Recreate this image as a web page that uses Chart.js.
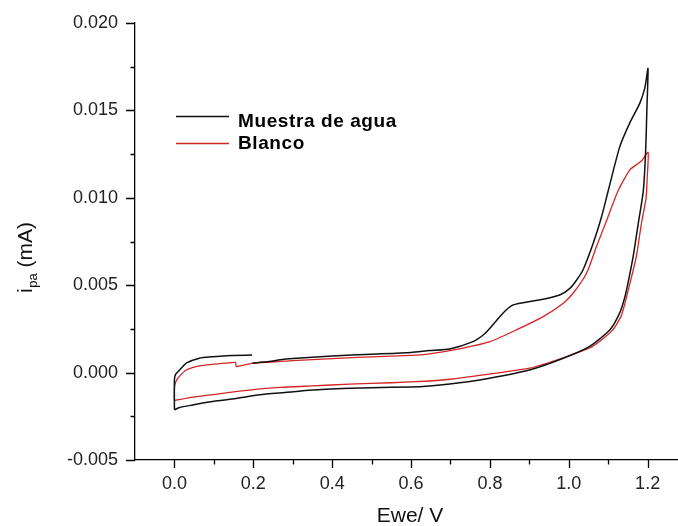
<!DOCTYPE html>
<html>
<head>
<meta charset="utf-8">
<script src="https://cdn.jsdelivr.net/npm/chart.js@4/dist/chart.umd.min.js"></script>
<style>
  html, body { margin: 0; padding: 0; background: #fff; }
  #wrap { width: 678px; height: 526px; position: relative; }
</style>
</head>
<body>
<div id="wrap"><canvas id="c" width="678" height="526"></canvas></div>
<script>
// ---- data (potential in V, current in mA) ----
const X_TICKS = [0.0, 0.2, 0.4, 0.6, 0.8, 1.0, 1.2];
const X_MINOR = [0.1, 0.3, 0.5, 0.7, 0.9, 1.1];
const Y_TICKS = [-0.005, 0.000, 0.005, 0.010, 0.015, 0.020];
const Y_MINOR = [-0.0025, 0.0025, 0.0075, 0.0125, 0.0175];

const SERIES_NAMES = ["Muestra de agua", "Blanco"];

const MUESTRA_V = [0.000, 0.000, 0.003, 0.013, 0.030, 0.063, 0.097, 0.131, 0.197, 0.1975,
  0.198, 0.240, 0.268, 0.300, 0.400, 0.500, 0.600, 0.647, 0.698, 0.757, 0.783, 0.800,
  0.833, 0.859, 0.884, 0.935, 0.977, 1.003, 1.020, 1.036, 1.062, 1.083, 1.100, 1.129,
  1.155, 1.180, 1.193, 1.201,
  1.198, 1.195, 1.189, 1.176, 1.163, 1.150, 1.142, 1.129, 1.104, 1.053, 0.986, 0.900,
  0.774, 0.698, 0.647, 0.600, 0.500, 0.444, 0.350, 0.280, 0.216, 0.150, 0.088, 0.047,
  0.013, 0.000];
const MUESTRA_I = [-0.00213, -0.0004, -0.0001, 0.00015, 0.00054, 0.00082, 0.00091, 0.00097, 0.0010, null,
  0.00054, 0.00063, 0.00073, 0.0008, 0.00095, 0.00105, 0.00115, 0.00126, 0.00135, 0.00177, 0.00215, 0.00254,
  0.0034, 0.00387, 0.0040, 0.0042, 0.00444, 0.00482, 0.0053, 0.00587, 0.0074, 0.0089, 0.0104, 0.0129,
  0.0143, 0.0154, 0.0163, 0.0174,
  0.0150, 0.0127, 0.0104, 0.0085, 0.0066, 0.0051, 0.0043, 0.0034, 0.00244, 0.0015, 0.00082, 0.00015,
  -0.00042, -0.00065, -0.00076, -0.00082, -0.00086, -0.0009, -0.0010, -0.00114, -0.00127, -0.0015, -0.00168, -0.00185,
  -0.0020, -0.00213];

const BLANCO_V = [0.000, 0.000, 0.004, 0.013, 0.030, 0.063, 0.100, 0.131, 0.155, 0.157,
  0.199, 0.268, 0.300, 0.400, 0.500, 0.600, 0.647, 0.732, 0.800, 0.867, 0.935, 0.986,
  1.011, 1.045, 1.070, 1.096, 1.125, 1.155, 1.184, 1.201,
  1.199, 1.196, 1.184, 1.171, 1.155, 1.134, 1.110, 1.060, 0.986, 0.900, 0.774, 0.698,
  0.647, 0.550, 0.444, 0.350, 0.266, 0.190, 0.131, 0.047, 0.000];
const BLANCO_I = [-0.0016, -0.0009, -0.0005, -0.0002, 0.00015, 0.00038, 0.00048, 0.00054, 0.00058, 0.00034,
  0.00054, 0.00064, 0.00068, 0.0008, 0.0009, 0.00098, 0.00107, 0.0014, 0.00177, 0.00244, 0.0032, 0.00397,
  0.00454, 0.00568, 0.0072, 0.0087, 0.0104, 0.0116, 0.0121, 0.0126,
  0.0112, 0.0100, 0.0085, 0.0066, 0.0051, 0.0033, 0.0024, 0.0015, 0.00085, 0.00025, -0.00016, -0.00038,
  -0.00048, -0.00058, -0.00066, -0.00076, -0.00085, -0.00100, -0.00116, -0.0014, -0.0016];

const toPoints = (xs, ys) => xs.map((x, i) => ({ x: x, y: ys[i] }));

const FONT = "'Liberation Sans', Arial, sans-serif";

const decor = {
  id: 'decor',
  afterDraw(chart) {
    const ctx = chart.ctx;
    const xs = chart.scales.x, ys = chart.scales.y;
    const ca = chart.chartArea;
    ctx.save();
    ctx.strokeStyle = '#000';
    ctx.lineWidth = 1.3;
    ctx.beginPath();
    X_TICKS.forEach(v => { const p = Math.round(xs.getPixelForValue(v)) + 0.5; ctx.moveTo(p, ca.bottom); ctx.lineTo(p, ca.bottom + 8); });
    X_MINOR.forEach(v => { const p = Math.round(xs.getPixelForValue(v)) + 0.5; ctx.moveTo(p, ca.bottom); ctx.lineTo(p, ca.bottom + 4.5); });
    Y_TICKS.forEach(v => { const p = Math.round(ys.getPixelForValue(v)) + 0.5; ctx.moveTo(ca.left, p); ctx.lineTo(ca.left - 9, p); });
    Y_MINOR.forEach(v => { const p = Math.round(ys.getPixelForValue(v)) + 0.5; ctx.moveTo(ca.left, p); ctx.lineTo(ca.left - 4.5, p); });
    ctx.stroke();

    // x title
    ctx.fillStyle = '#111';
    ctx.font = "21px " + FONT;
    ctx.textAlign = 'center';
    ctx.textBaseline = 'alphabetic';
    ctx.fillText('Ewe/ V', 410, 522);

    // y title with subscript
    ctx.save();
    ctx.translate(32, 255);
    ctx.rotate(-Math.PI / 2);
    ctx.textAlign = 'left';
    let x0 = -38;
    ctx.font = "21px " + FONT;
    ctx.fillText('i', x0, 0);
    x0 += ctx.measureText('i').width + 0.5;
    ctx.font = "13px " + FONT;
    ctx.fillText('pa', x0, 5);
    x0 += ctx.measureText('pa').width;
    ctx.font = "21px " + FONT;
    ctx.fillText(' (mA)', x0, 0);
    ctx.restore();

    // legend
    const legY = [116, 143];
    const txtY = [126.7, 149.3];
    chart.data.datasets.forEach((ds, i) => {
      ctx.strokeStyle = ds.borderColor;
      ctx.lineWidth = 1.3;
      ctx.beginPath();
      ctx.moveTo(176, legY[i] + 0.5);
      ctx.lineTo(229, legY[i] + 0.5);
      ctx.stroke();
      ctx.fillStyle = '#000';
      ctx.font = "bold 19px " + FONT;
      try { ctx.letterSpacing = '0.6px'; } catch (e) {}
      ctx.textAlign = 'left';
      ctx.fillText(ds.label, 238, txtY[i]);
      try { ctx.letterSpacing = '0px'; } catch (e) {}
    });
    ctx.restore();
  }
};

new Chart(document.getElementById('c'), {
  type: 'scatter',
  data: {
    datasets: [
      { label: SERIES_NAMES[0], data: toPoints(MUESTRA_V, MUESTRA_I), showLine: true,
        borderColor: '#111111', borderWidth: 1.5, pointRadius: 0, tension: 0.2, spanGaps: false },
      { label: SERIES_NAMES[1], data: toPoints(BLANCO_V, BLANCO_I), showLine: true,
        borderColor: '#d42424', borderWidth: 1.3, pointRadius: 0, tension: 0.2, spanGaps: false }
    ]
  },
  options: {
    responsive: false,
    animation: false,
    devicePixelRatio: 1,
    layout: { padding: { left: 0, right: 0, top: 23, bottom: 0 } },
    plugins: { legend: { display: false }, tooltip: { enabled: false } },
    scales: {
      x: {
        type: 'linear', min: -0.1, max: 1.277,
        afterBuildTicks: s => { s.ticks = X_TICKS.map(v => ({ value: v })); },
        afterFit: s => { s.height = 66; s.paddingLeft = 0; s.paddingRight = 0; },
        grid: { display: false, drawTicks: false },
        border: { display: true, color: '#000', width: 1.3 },
        ticks: { padding: 13, color: '#222', font: { family: FONT, size: 18 }, maxRotation: 0,
          autoSkip: false, callback: v => Number(v).toFixed(1) }
      },
      y: {
        type: 'linear', min: -0.005, max: 0.020,
        afterBuildTicks: s => { s.ticks = Y_TICKS.map(v => ({ value: v })); },
        afterFit: s => { s.width = 135; s.paddingTop = 0; s.paddingBottom = 0; },
        grid: { display: false, drawTicks: false },
        border: { display: true, color: '#000', width: 1.3 },
        ticks: { padding: 17, color: '#222', font: { family: FONT, size: 18 },
          autoSkip: false, callback: v => Number(v).toFixed(3) }
      }
    }
  },
  plugins: [decor]
});
</script>
</body>
</html>
